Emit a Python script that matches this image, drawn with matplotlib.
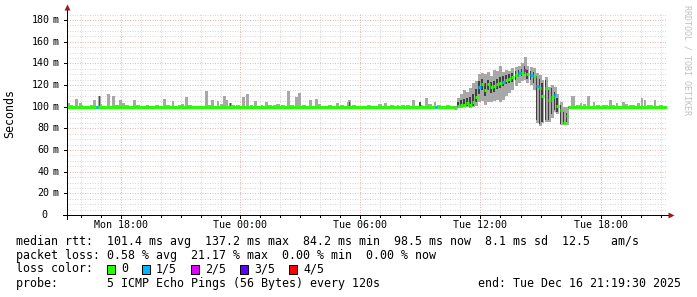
import numpy as np
import matplotlib
matplotlib.use("Agg")
import matplotlib.pyplot as plt
from matplotlib.patches import Rectangle

### chart window (hours since Mon 00:00)
t_start = 15.325   # Mon 15:19:30
t_end = 45.325     # Tue 21:19:30

### median rtt (ms) outside the afternoon bump
base_med = 99.5

### the bump on Tuesday, one column every 9 minutes
hump_t = [34.70, 34.85, 35.00, 35.15, 35.30, 35.45, 35.60, 35.75, 35.90, 36.05,
          36.20, 36.35, 36.50, 36.65, 36.80, 36.95, 37.10, 37.25, 37.40, 37.55,
          37.70, 37.85, 38.00, 38.15, 38.30, 38.45, 38.60, 38.75, 38.90, 39.05,
          39.20, 39.35, 39.50, 39.65, 39.80, 39.95, 40.10, 40.25, 40.40, 40.55]
hump_med = [99, 101, 102, 102, 103, 102, 104, 109, 118, 121,
            115, 121, 118, 119, 121, 122, 123, 125, 126, 127,
            129, 131, 131, 134, 130, 129, 128, 119, 117, 110,
            117, 106, 109, 111, 101, 97, 84.5, 91, 99.5, 99.5]
hump_loss = [0, 0, 0, 0, 0, 0, 0, 0, 1, 0,
             0, 0, 0, 0, 0, 0, 1, 0, 0, 0,
             0, 1, 0, 2, 0, 1, 0, 1, 0, 0,
             0, 0, 0, 1, 0, 0, 0, 0, 0, 0]
# inner (dark) and outer (light) smoke
hump_dlo = [99, 100, 100, 101, 101, 100, 101, 104, 112, 115,
            110, 115, 113, 114, 116, 117, 119, 121, 122, 123,
            125, 127, 128, 130, 126, 125, 122, 88, 84, 86,
            88, 88, 93, 97, 95, 84, 84, 86, 99, 99]
hump_dhi = [100, 104, 106, 107, 108, 109, 112, 116, 124, 126,
            122, 125, 123, 124, 126, 127, 128, 129, 130, 131,
            133, 134, 135, 138, 134, 133, 132, 128, 126, 122,
            125, 115, 117, 114, 108, 102, 95, 94, 100, 100]
hump_llo = [98, 99, 99, 100, 100, 99, 100, 101, 104, 105,
            102, 104, 104, 105, 106, 104, 106, 110, 113, 115,
            119, 122, 124, 125, 122, 120, 115, 85, 82, 85,
            86, 86, 90, 95, 93, 83, 83, 83, 98, 98]
hump_lhi = [101, 108, 112, 115, 114, 117, 122, 124, 130, 131,
            130, 132, 128, 134, 133, 138, 132, 134, 133, 136,
            137, 138, 140, 146, 138, 137, 136, 131, 129, 125,
            127, 118, 120, 118, 112, 104, 100, 100, 101, 110]

### smoke spikes on the flat part
smoke_floor = 98.5
spike_t = [15.38, 15.80, 15.98, 16.18, 16.38, 16.68, 16.95, 17.15, 17.40, 17.65,
           18.00, 18.13, 18.68, 19.13, 19.53, 20.18, 20.63, 20.93, 21.28, 21.73,
           21.98, 22.28, 22.60, 22.88, 23.18, 23.30, 23.48, 24.15, 24.35, 24.73,
           25.08, 25.30, 25.68, 26.38, 26.78, 26.93, 27.48, 27.78, 28.23, 28.85,
           29.38, 29.45, 30.18, 30.73, 31.25, 31.88, 32.65, 32.98, 33.28, 33.73,
           34.13, 40.68, 41.03, 41.38, 41.68, 42.13, 42.50, 42.83, 43.13, 43.48,
           43.88, 44.08, 44.23, 44.38, 44.73, 44.88]
spike_top = [103, 107, 103, 101, 101, 106, 110, 101, 112, 110,
             106, 103, 106, 101, 101, 107.5, 105.5, 102, 109, 101,
             101, 114.5, 106, 105, 110, 106, 103, 108.5, 112, 105,
             102, 104, 102, 114.5, 108.5, 113, 106, 107.5, 101, 103,
             104, 106.5, 101, 101, 103, 102, 106.5, 104, 108, 104,
             101, 110, 103, 109.5, 104, 102, 106, 103, 104.6, 102,
             103, 107.6, 106, 102, 106, 101]
# low bumps just above the median line
bump_t = [15.55, 16.05, 16.55, 17.00, 17.80, 18.30, 18.90, 19.35, 19.80, 20.40,
          21.10, 21.50, 22.45, 23.05, 23.65, 23.90, 24.55, 25.50, 25.90, 26.15,
          26.55, 27.20, 27.95, 28.50, 29.10, 29.70, 30.45, 31.00, 31.55, 32.15,
          32.40, 33.05, 33.50, 33.95, 34.40, 40.85, 41.20, 41.90, 42.30, 42.65,
          43.30, 43.65, 44.55, 45.05]
bump_top = [102, 101.5, 102, 102.5, 101.5, 102, 101.5, 102, 101.5, 102,
            102.5, 101.5, 102, 102.5, 101.5, 102, 102, 101.5, 102.5, 102,
            101.5, 102, 102.5, 101.5, 102, 101.5, 102, 102.5, 101.5, 102,
            102, 101.5, 102.5, 102, 101.5, 102, 102.5, 102, 101.5, 102,
            102.5, 102, 101.5, 102]
dark_t = [16.95, 23.48, 29.45, 32.98]
dark_top = [110, 103, 104, 104]

### single loss marks on the flat part
bl_loss_t = [16.78, 33.72]
bl_loss_n = [1, 1]

loss_labels = ["0", "1/5", "2/5", "3/5", "4/5"]
loss_colors = ["#26ff00", "#00b8ff", "#dd00ff", "#5e00ff", "#ff0000"]

y_major = [0, 20, 40, 60, 80, 100, 120, 140, 160, 180]
x_major = [18, 24, 30, 36, 42]
x_labels = ["Mon 18:00", "Tue 00:00", "Tue 06:00", "Tue 12:00", "Tue 18:00"]

line_rtt = "median rtt:  101.4 ms avg  137.2 ms max  84.2 ms min  98.5 ms now  8.1 ms sd  12.5   am/s"
line_loss = "packet loss: 0.58 % avg  21.17 % max  0.00 % min  0.00 % now"
line_color = "loss color:"
line_probe = "probe:       5 ICMP Echo Pings (56 Bytes) every 120s"
line_end = "end: Tue Dec 16 21:19:30 2025"

W, H = 697, 297
MONO = "DejaVu Sans Mono"
PX = 0.72  # one pixel in points

fig = plt.figure(figsize=(W / 100, H / 100), dpi=100)
fig.patch.set_facecolor("white")
ax = fig.add_axes([67 / W, (H - 215) / H, 600 / W, 202 / H])
ymax = 180 * 202 / 195
ax.set_xlim(t_start, t_end)
ax.set_ylim(0, ymax)
for s in ax.spines.values():
    s.set_visible(False)
ax.set_xticks([])
ax.set_yticks([])

# grid
for v in np.arange(5, ymax, 5):
    if v % 20:
        ax.axhline(v, color="#d8d8d8", lw=PX, ls=(0, (1, 1.5)), zorder=0)
for h in range(16, 46):
    if h % 6:
        ax.axvline(h, color="#d8d8d8", lw=PX, ls=(0, (1, 1.5)), zorder=0)
for v in y_major[1:]:
    ax.axhline(v, color="#eeb4b4", lw=PX, ls=(0, (1, 1.5)), zorder=0.5)
for h in x_major:
    ax.axvline(h, color="#eeb4b4", lw=PX, ls=(0, (1, 1.5)), zorder=0.5)

# smoke
ax.bar(bump_t, np.array(bump_top) - smoke_floor, bottom=smoke_floor, width=0.2,
       color="#a8a8a8", linewidth=0, zorder=2)
ax.bar(spike_t, np.array(spike_top) - smoke_floor, bottom=smoke_floor, width=0.14,
       color="#a8a8a8", linewidth=0, zorder=2)
ax.bar(dark_t, np.array(dark_top) - smoke_floor, bottom=smoke_floor, width=0.06,
       color="#505050", linewidth=0, zorder=2.1)
ax.bar(hump_t, np.array(hump_lhi) - np.array(hump_llo), bottom=hump_llo, width=0.15,
       align="edge", color="#a8a8a8", linewidth=0, zorder=2)
ax.bar(hump_t, np.array(hump_dhi) - np.array(hump_dlo), bottom=hump_dlo, width=0.055,
       align="edge", color="#404040", linewidth=0, zorder=2.1)

# median line coloured by loss
ax.hlines(base_med, t_start, hump_t[0], color=loss_colors[0], lw=3 * PX, zorder=3)
ax.hlines(hump_med[-1], hump_t[-1], t_end, color=loss_colors[0], lw=3 * PX, zorder=3)
for t, m, n in zip(hump_t, hump_med, hump_loss):
    ax.hlines(m, t, t + 0.15, color=loss_colors[n], lw=3 * PX, zorder=4 if n else 3)
for t, n in zip(bl_loss_t, bl_loss_n):
    ax.hlines(base_med, t, t + 0.1, color=loss_colors[n], lw=3 * PX, zorder=4)

# axes with arrows
ax.plot([0, 0], [-4 / 202, 1 + 4 / 202], transform=ax.transAxes, clip_on=False,
        color="black", lw=PX, zorder=5)
ax.plot([-4 / 600, 1 + 2 / 600], [0, 0], transform=ax.transAxes, clip_on=False,
        color="black", lw=PX, zorder=5)
ax.plot([0], [1 + 6 / 202], transform=ax.transAxes, clip_on=False, marker="^",
        ms=4.5, color="#a01818", mec="none", zorder=6)
ax.plot([1 + 4 / 600], [0], transform=ax.transAxes, clip_on=False, marker=">",
        ms=4.5, color="#a01818", mec="none", zorder=6)

# tick marks
for v in y_major:
    ax.plot([-3 / 600, 0], [v, v], transform=ax.get_yaxis_transform(),
            clip_on=False, color="black", lw=PX, zorder=5)
for h in range(16, 46):
    ln = 3 if h in x_major else 2
    ax.plot([h, h], [-ln / 202, 0], transform=ax.get_xaxis_transform(),
            clip_on=False, color="black", lw=PX, zorder=5)

# tick labels
for v in y_major:
    yf = (H - 215 + v * 195 / 180) / H
    if v == 0:
        fig.text(44.5 / W, yf, "0", ha="center", va="center", family=MONO, size=7.2)
    else:
        fig.text(49.5 / W, yf, str(v), ha="right", va="center", family=MONO, size=7.2)
        fig.text(53 / W, yf, "m", ha="left", va="center", family=MONO, size=7.2)
for h, lab in zip(x_major, x_labels):
    ax.text(h, -10 / 202, lab, transform=ax.get_xaxis_transform(), ha="center",
            va="center", family=MONO, size=7.2)

fig.text(10 / W, (H - 113) / H, "Seconds", rotation=90, ha="center", va="center",
         family=MONO, size=8.4)
fig.text(687 / W, (H - 60) / H, "RRDTOOL / TOBI OETIKER", rotation=-90, ha="center",
         va="center", family=MONO, size=6, color="#c0c0c0")

# legend block
CW = 7.0
def ly(y):
    return (H - y) / H
fig.text(16 / W, ly(241), line_rtt, ha="left", va="center", family=MONO, size=8.4)
fig.text(16 / W, ly(255.5), line_loss, ha="left", va="center", family=MONO, size=8.4)
fig.text(16 / W, ly(269), line_color, ha="left", va="center", family=MONO, size=8.4)
fig.text(16 / W, ly(283.5), line_probe, ha="left", va="center", family=MONO, size=8.4)
fig.text(681 / W, ly(283.5), line_end, ha="right", va="center", family=MONO, size=8.4)

col = 13
for lab, c in zip(loss_labels, loss_colors):
    x = 16 + col * CW
    fig.add_artist(Rectangle((x / W, ly(273.5)), 8 / W, 9 / H, facecolor=c,
                             edgecolor="black", lw=PX, transform=fig.transFigure))
    fig.text((x + 2 * CW) / W, ly(269), lab, ha="left", va="center", family=MONO, size=8.4)
    col += 2 + len(lab) + 2

fig.savefig("out.png", dpi=100)
